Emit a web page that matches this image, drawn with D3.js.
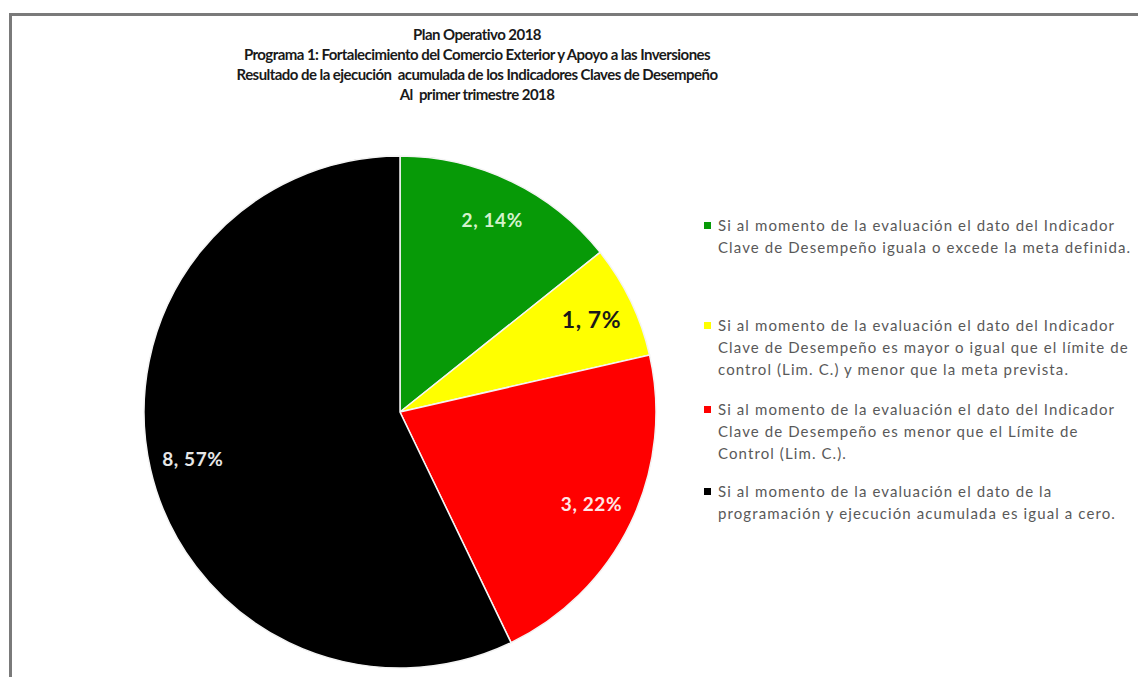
<!DOCTYPE html>
<html>
<head>
<meta charset="utf-8">
<script src="https://cdn.jsdelivr.net/npm/d3@7"></script>
<style>
  body { margin: 0; background: #fff; }
  svg { display: block; font-family: Lato, "Open Sans", sans-serif; }
  text { white-space: pre; }
</style>
</head>
<body>
<div id="chart"></div>
<script>
// Chart data
const categories = ["Verde", "Amarillo", "Rojo", "Negro"];
const values = [2, 1, 3, 8];
const percentLabels = ["14%", "7%", "22%", "57%"];
const colors = ["#079a07", "#ffff00", "#ff0000", "#000000"];
const labelColors = ["#d4f2cc", "#1a1a1a", "#ffe6e6", "#e6e6e6"];

const titleLines = [
    "Plan Operativo 2018",
    "Programa 1: Fortalecimiento del Comercio Exterior y Apoyo a las Inversiones",
    "Resultado de la ejecución  acumulada de los Indicadores Claves de Desempeño",
    "Al  primer trimestre 2018"
];

const legendLines = [
    ["Si al momento de la evaluación el dato del Indicador",
     "Clave de Desempeño iguala o excede la meta definida."],
    ["Si al momento de la evaluación el dato del Indicador",
     "Clave de Desempeño es mayor o igual que el límite de",
     "control (Lim. C.) y menor que la meta prevista."],
    ["Si al momento de la evaluación el dato del Indicador",
     "Clave de Desempeño es menor que el Límite de",
     "Control (Lim. C.)."],
    ["Si al momento de la evaluación el dato de la",
     "programación y ejecución acumulada es igual a cero."]
];

// Layout
let width = 1138;
let height = 677;
let cx = 400, cy = 412, radius = 256;

let svg = d3.select("#chart").append("svg")
    .attr("width", width)
    .attr("height", height)

svg.append("rect").attr("width", width).attr("height", height).attr("fill", "#fff")

// frame (only top and left edges are visible in the crop)
svg.append("path")
    .attr("d", `M10.5,${height} V14.5 H${width}`)
    .attr("fill", "none")
    .attr("stroke", "#7a7a7a")
    .attr("stroke-width", 3)

// Title
svg.append("text")
    .attr("x", 477)
    .attr("y", 40)
    .attr("text-anchor", "middle")
    .attr("font-weight", "bold")
    .attr("font-size", 15)
    .attr("letter-spacing", -0.55)
    .attr("fill", "#1a1a1a")
    .selectAll("tspan")
    .data(titleLines)
    .join("tspan")
    .attr("x", 477)
    .attr("dy", (d, i) => i === 0 ? 0 : 20)
    .text(d => d);

// Pie
const data = values.map((v, i) => ({ name: categories[i], value: v, pct: percentLabels[i], i: i }));
const pie = d3.pie().value(d => d.value).sort(null);
const arc = d3.arc().innerRadius(0).outerRadius(radius);
const labelArc = d3.arc().innerRadius(radius * 0.83).outerRadius(radius * 0.83);

let g = svg.append("g").attr("transform", `translate(${cx},${cy})`)

g.selectAll("path")
    .data(pie(data))
    .join("path")
    .attr("d", arc)
    .attr("fill", d => colors[d.data.i])
    .attr("stroke", "#f4f4f4")
    .attr("stroke-width", 1.5)

g.selectAll("text")
    .data(pie(data))
    .join("text")
    .attr("transform", d => `translate(${labelArc.centroid(d)})`)
    .attr("text-anchor", "middle")
    .attr("dy", "0.35em")
    .attr("font-weight", "bold")
    .attr("font-size", d => d.data.i === 1 ? 23 : 19)
    .attr("letter-spacing", 0.6)
    .attr("fill", d => labelColors[d.data.i])
    .text(d => `${d.data.value}, ${d.data.pct}`)

// Legend
const legendY = [226, 326, 410, 492];
const lineH = 22;
let legend = svg.append("g")

legendLines.forEach((lines, i) => {
    legend.append("rect")
        .attr("x", 704)
        .attr("y", legendY[i] - 4)
        .attr("width", 7)
        .attr("height", 7)
        .attr("fill", colors[i])
    legend.append("text")
        .attr("font-size", 15)
        .attr("letter-spacing", 1.1)
        .attr("fill", "#595959")
        .selectAll("tspan")
        .data(lines)
        .join("tspan")
        .attr("x", 718)
        .attr("y", (d, j) => legendY[i] + 5 + j * lineH)
        .text(d => d)
})
</script>
</body>
</html>
